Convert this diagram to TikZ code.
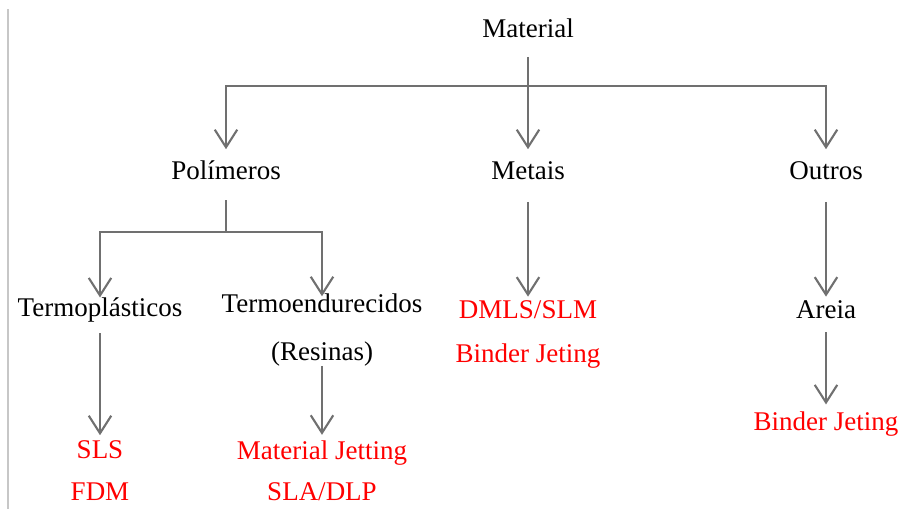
\documentclass[tikz,border=0pt]{standalone}
\usepackage{fontspec}
\setmainfont{Liberation Serif}
\usetikzlibrary{arrows.meta,calc}
\definecolor{linegray}{RGB}{112,112,112}
\definecolor{techred}{RGB}{255,0,0}

\begin{document}
\begin{tikzpicture}[
  x=0.025cm, y=-0.025cm,
  font=\fontsize{19.2}{23}\selectfont,
  lbl/.style={anchor=base,inner sep=0pt,text height=0.7em,text depth=0pt},
  tech/.style={lbl,text=techred},
  line/.style={draw=linegray,line width=1.5pt},
  arr/.style={line,-{Straight Barb[length=12.5pt,width=16pt,line width=1.5pt]}},
]
\useasboundingbox (0,0) rectangle (899,509);
\draw[black!22,line width=0.8pt] (8,9) -- (8,509);

% ---- material classes ----
\node[lbl] (mat) at (528,37) {Material};
\node[lbl] (pol) at (226,179) {Polímeros};
\node[lbl] (met) at (528,179) {Metais};
\node[lbl] (out) at (826,179) {Outros};
\node[lbl] (tpl) at (100,316) {Termoplásticos};
\node[lbl] (tnd) at (322,312) {Termoendurecidos};
\node[lbl] (res) at (322,360) {(Resinas)};
\node[lbl] (are) at (826,318) {Areia};

% ---- processes ----
\node[tech] (sls) at (100,458) {SLS};
\node[tech] (fdm) at (100,500) {FDM};
\node[tech] (mjt) at (322,459) {Material Jetting};
\node[tech] (sla) at (322,500) {SLA/DLP};
\node[tech] (dmls) at (528,318) {DMLS/SLM};
\node[tech] (bjm) at (528,362) {Binder Jeting};
\node[tech] (bja) at (826,430) {Binder Jeting};

% ---- tree ----
\coordinate (matj) at (528,86);
\coordinate (polj) at (226,232);
\draw[line,shorten <=14pt] (mat.south) -- (matj);
\draw[arr,shorten >=14pt] (matj) -| (pol.north);
\draw[arr,shorten >=14pt] (matj) -- (met.north);
\draw[arr,shorten >=14pt] (matj) -| (out.north);
\draw[line,shorten <=15pt] (pol.south) -- (polj);
\draw[arr,shorten >=6pt] (polj) -| (tpl.north);
\draw[arr,shorten >=4pt] (polj) -| (tnd.north);
\draw[arr,shorten <=12pt,shorten >=9pt] (tpl.south) -- (sls.north);
\draw[arr,shorten <=4pt,shorten >=10pt] (res.south) -- (mjt.north);
\draw[arr,shorten <=16pt,shorten >=8pt] (met.south) -- (dmls.north);
\draw[arr,shorten <=16pt,shorten >=8pt] (out.south) -- (are.north);
\draw[arr,shorten <=10pt,shorten >=11pt] (are.south) -- (bja.north);
\end{tikzpicture}
\end{document}
